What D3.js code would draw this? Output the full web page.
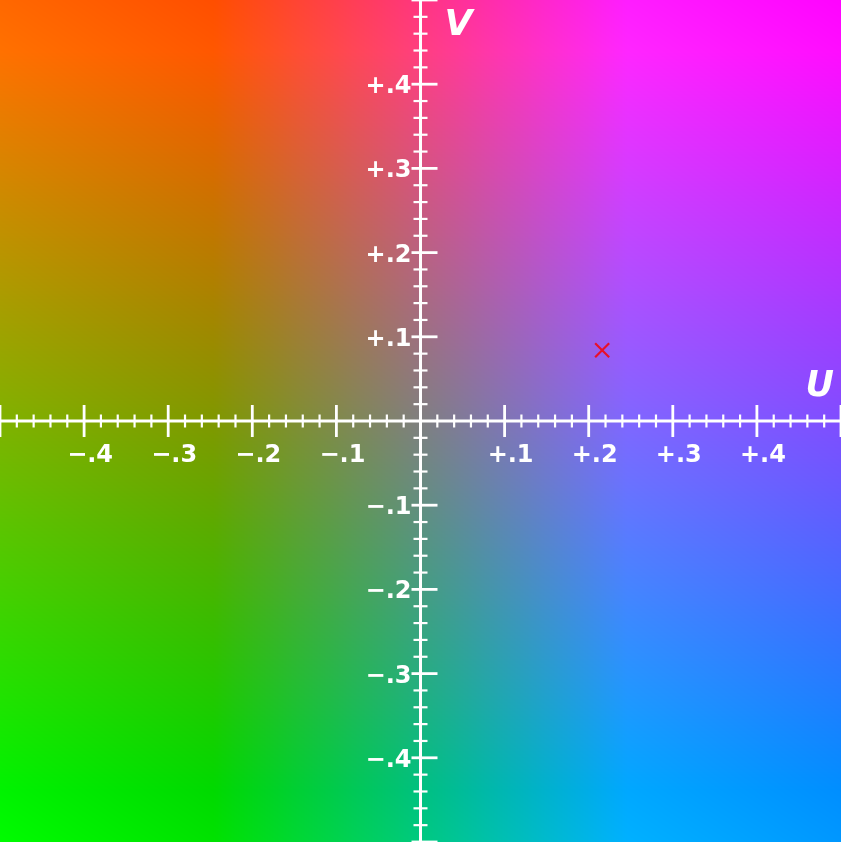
<!DOCTYPE html>
<html><head><meta charset="utf-8">
<script src="https://cdn.jsdelivr.net/npm/d3@7"></script>
<style>
html,body{margin:0;padding:0;background:#fff;}
#wrap{position:relative;width:841px;height:842px;overflow:hidden;}
canvas,svg{position:absolute;left:0;top:0;}
</style></head>
<body><div id="wrap"></div>
<script>
// ---- data ----
const lumaY = 0.5;                       // Y' level of the UV plane
const uDomain = [-0.5, 0.5];
const vDomain = [-0.5, 0.5];
const majorTicks = [-0.5,-0.4,-0.3,-0.2,-0.1,0,0.1,0.2,0.3,0.4,0.5];
const labelTicks = [-0.4,-0.3,-0.2,-0.1,0.1,0.2,0.3,0.4];
const tickLabels = ["−.4","−.3","−.2","−.1","+.1","+.2","+.3","+.4"];
const minorStep = 0.02;
const markerPoints = [{u:0.216, v:0.084}];
const axisNames = {u:"U", v:"V"};

// ---- layout ----
const W = 841, H = 842;
const x = d3.scaleLinear().domain(uDomain).range([0, W]);
const y = d3.scaleLinear().domain(vDomain).range([H, 0]);

const wrap = d3.select("#wrap");
const canvas = wrap.append("canvas").attr("width", W).attr("height", H).node();
const ctx = canvas.getContext("2d");
const img = ctx.createImageData(W, H);
const clamp = v => Math.max(0, Math.min(1, v));
for (let j = 0; j < H; j++) {
  const V = y.invert(j + 0.5);
  for (let i = 0; i < W; i++) {
    const U = x.invert(i + 0.5);
    const r = clamp(lumaY + 1.13983 * V);
    const g = clamp(lumaY - 0.39465 * U - 0.58060 * V);
    const b = clamp(lumaY + 2.03211 * U);
    const k = (j * W + i) * 4;
    img.data[k] = Math.round(r * 255);
    img.data[k+1] = Math.round(g * 255);
    img.data[k+2] = Math.round(b * 255);
    img.data[k+3] = 255;
  }
}
ctx.putImageData(img, 0, 0);

const svg = wrap.append("svg").attr("width", W).attr("height", H);
const x0 = x(0), y0 = y(0);
const white = "#ffffff";
const minorTicks = d3.range(-25, 26).map(k => k * minorStep)
  .filter(v => Math.abs(Math.round(v * 10) - v * 10) > 1e-6);

// axis lines
svg.append("line").attr("x1", 0).attr("x2", W).attr("y1", y0).attr("y2", y0)
  .attr("stroke", white).attr("stroke-width", 3);
svg.append("line").attr("x1", x0).attr("x2", x0).attr("y1", 0).attr("y2", H)
  .attr("stroke", white).attr("stroke-width", 3);

// minor ticks
svg.append("g").selectAll("line").data(minorTicks).join("line")
  .attr("x1", d => x(d)).attr("x2", d => x(d)).attr("y1", y0 - 6.5).attr("y2", y0 + 6.5)
  .attr("stroke", white).attr("stroke-width", 2.2);
svg.append("g").selectAll("line").data(minorTicks).join("line")
  .attr("y1", d => y(d)).attr("y2", d => y(d)).attr("x1", x0 - 7).attr("x2", x0 + 7)
  .attr("stroke", white).attr("stroke-width", 2.2);
// major ticks
const majors = majorTicks.filter(d => d !== 0);
svg.append("g").selectAll("line").data(majors).join("line")
  .attr("x1", d => x(d)).attr("x2", d => x(d)).attr("y1", y0 - 16).attr("y2", y0 + 16)
  .attr("stroke", white).attr("stroke-width", 2.8);
svg.append("g").selectAll("line").data(majors).join("line")
  .attr("y1", d => y(d)).attr("y2", d => y(d)).attr("x1", x0 - 9).attr("x2", x0 + 17)
  .attr("stroke", white).attr("stroke-width", 2.8);

// tick labels
const font = "'DejaVu Sans', sans-serif";
svg.append("g").selectAll("text").data(labelTicks).join("text")
  .attr("x", d => x(d) + 6).attr("y", y0 + 41)
  .attr("text-anchor", "middle").attr("font-family", font).attr("font-weight", "bold")
  .attr("font-size", 24).attr("fill", white)
  .text((d, i) => tickLabels[i]);
svg.append("g").selectAll("text").data(labelTicks).join("text")
  .attr("x", x0 - 9).attr("y", d => y(d) + 9)
  .attr("text-anchor", "end").attr("font-family", font).attr("font-weight", "bold")
  .attr("font-size", 24).attr("fill", white)
  .text((d, i) => tickLabels[i]);

// axis names
svg.append("text").attr("x", W - 7).attr("y", y0 - 25)
  .attr("text-anchor", "end").attr("font-family", font).attr("font-weight", "bold")
  .attr("font-style", "italic").attr("font-size", 35).attr("fill", white).text(axisNames.u);
svg.append("text").attr("x", x0 + 24).attr("y", 35)
  .attr("font-family", font).attr("font-weight", "bold")
  .attr("font-style", "italic").attr("font-size", 36).attr("fill", white).text(axisNames.v);

// marker
svg.append("g").selectAll("path").data(markerPoints).join("path")
  .attr("transform", d => `translate(${x(d.u)},${y(d.v)})`)
  .attr("d", d3.symbol(d3.symbolTimes, 130))
  .attr("fill", "none").attr("stroke", "#e8102a").attr("stroke-width", 2.2);
</script></body></html>
